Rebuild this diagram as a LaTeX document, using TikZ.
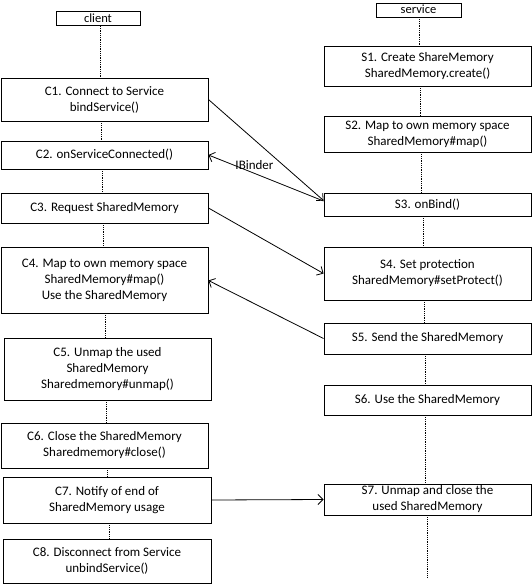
\documentclass[tikz,border=0pt]{standalone}
\usepackage{fontspec}
\setmainfont{Carlito}
\usetikzlibrary{arrows.meta}
\tikzset{
  box/.style={draw, line width=0.9pt, inner sep=0pt, align=center, font=\fontsize{13}{16}\selectfont},
  head/.style={draw, line width=0.9pt, inner sep=0pt, text height=9pt, text depth=1.5pt, font=\fontsize{12.5}{14}\selectfont},
  wh/.style 2 args={minimum width=#1pt, minimum height=#2pt},
  life/.style={densely dotted, line width=0.8pt},
  msg/.style={line width=0.8pt, -{Straight Barb[length=5pt,width=10pt]}},
}
\begin{document}
\begin{tikzpicture}[x=1pt,y=-1pt]
\useasboundingbox (0,0) rectangle (532,587);
% headers
\node[head, wh={84}{14}] (client) at (98,18.5) {client};
\node[head, wh={85}{14}] (service) at (418.5,10) {service};
% client boxes
\node[box, wh={207}{43}] (C1) at (104.5,99.5) {C1. Connect to Service\\bindService()};
\node[box, wh={207}{28}] (C2) at (104.5,155) {C2. onServiceConnected()};
\node[box, wh={207}{30}] (C3) at (104.5,208) {C3. Request SharedMemory};
\node[box, wh={207}{66}] (C4) at (104.5,280) {C4. Map to own memory space\\SharedMemory\#map()\\Use the SharedMemory};
\node[box, wh={207}{62}] (C5) at (107.5,369) {C5. Unmap the used\\SharedMemory\\Sharedmemory\#unmap()};
\node[box, wh={207}{45}] (C6) at (104.5,445.5) {C6. Close the SharedMemory\\Sharedmemory\#close()};
\node[box, wh={208}{46}] (C7) at (107,500) {C7. Notify of end of\\SharedMemory usage};
\node[box, wh={208}{44}] (C8) at (107,561) {C8. Disconnect from Service\\unbindService()};
% service boxes
\node[box, wh={207}{40}] (S1) at (427.5,66) {S1. Create ShareMemory\\SharedMemory.create()};
\node[box, wh={207}{36}] (S2) at (427.5,134) {S2. Map to own memory space\\SharedMemory\#map()};
\node[box, wh={207}{23}] (S3) at (427.5,204.5) {S3. onBind()};
\node[box, wh={207}{53}] (S4) at (427.5,273.5) {S4. Set protection\\SharedMemory\#setProtect()};
\node[box, wh={207}{31}] (S5) at (427.5,338.5) {S5. Send the SharedMemory};
\node[box, wh={207}{30}] (S6) at (427.5,400) {S6. Use the SharedMemory};
\node[box, wh={207}{31}] (S7) at (427.5,499.5) {S7. Unmap and close the\\used SharedMemory};
\coordinate (Send) at (427,577);
% client lifeline
\draw[life] (client.south -| 100,0) -- (C1.north -| 100,0);
\draw[life] (C1.south -| 101,0) -- (C2.north -| 101,0);
\draw[life] (C2.south -| 102,0) -- (C3.north -| 102,0);
\draw[life] (C3.south -| 103,0) -- (C4.north -| 103,0);
\draw[life] (C4.south -| 105,0) -- (C5.north -| 105,0);
\draw[life] (C5.south -| 106,0) -- (C6.north -| 106,0);
\draw[life] (C6.south -| 107,0) -- (C7.north -| 107,0);
\draw[life] (C7.south -| 109,0) -- (C8.north -| 109,0);
% service lifeline
\draw[life] (service.south -| 419,0) -- (S1.north -| 419,0);
\draw[life] (S1.south -| 420,0) -- (S2.north -| 420,0);
\draw[life] (S2.south -| 421,0) -- (S3.north -| 421,0);
\draw[life] (S3.south -| 423,0) -- (S4.north -| 423,0);
\draw[life] (S4.south -| 424,0) -- (S5.north -| 424,0);
\draw[life] (S5.south -| 425,0) -- (S6.north -| 425,0);
\draw[life] (S6.south -| 425,0) -- (S7.north -| 425,0);
\draw[life] (S7.south -| 427,0) -- (Send);
% messages
\draw[msg] (C1.east) -- ([yshift=4pt]S3.west);
\draw[msg] ([yshift=3.5pt]S3.west) -- node[pos=0.6, above, yshift=2pt, font=\fontsize{13}{15}\selectfont, inner sep=1pt] {IBinder} (C2.east);
\draw[msg] (C3.east) -- (S4.west);
\draw[msg] (S5.west) -- ([yshift=-0.5pt]C4.east);
\draw[msg] (C7.east) -- (S7.west);
\end{tikzpicture}
\end{document}
